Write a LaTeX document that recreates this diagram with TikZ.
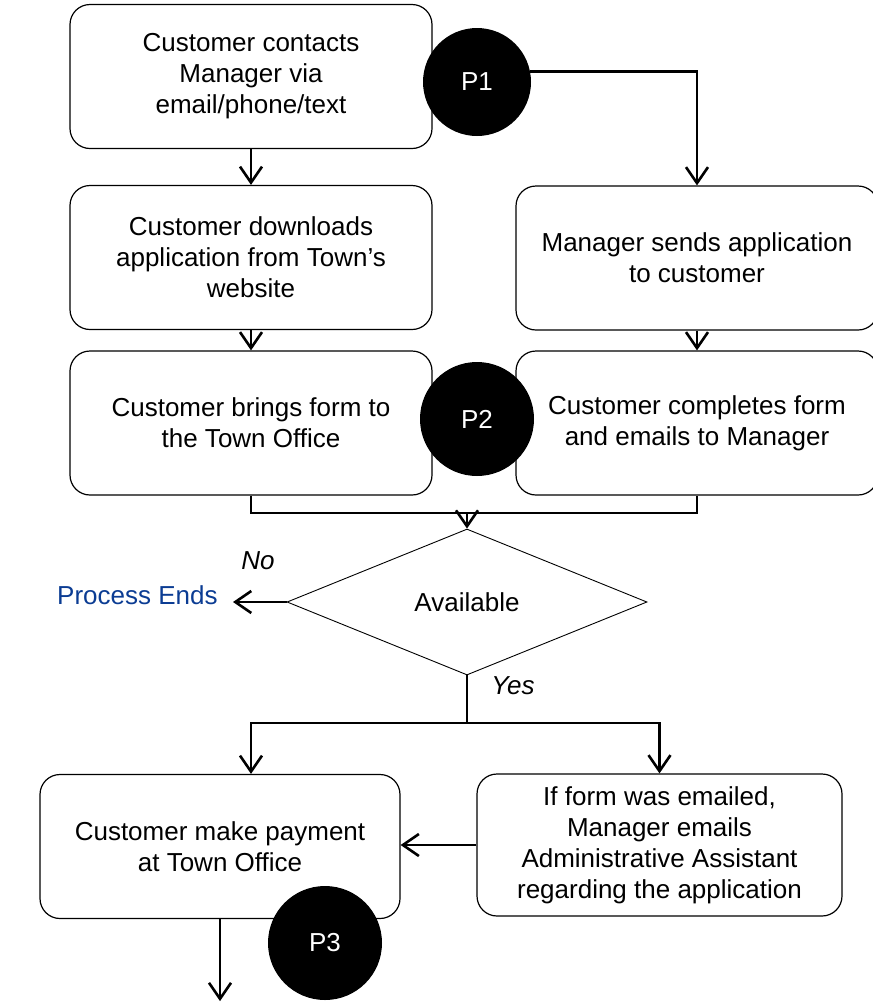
\documentclass[tikz,border=0pt]{standalone}
\usepackage{fontspec}
\setmainfont{Liberation Sans}
\usetikzlibrary{arrows.meta,positioning,calc,shapes.geometric}
\definecolor{endblue}{HTML}{0B3C93}

\begin{document}
\begin{tikzpicture}[x=0.5pt,y=-0.5pt,
  stepbox/.style={draw, rounded corners=10pt, line width=0.6pt, minimum width=181pt,
    minimum height=72pt, align=center, inner sep=2pt, font=\fontsize{13}{15.5}\selectfont},
  decide/.style={draw, diamond, aspect=1, inner sep=0pt, line width=0.45pt,
    minimum width=180pt, minimum height=73pt, font=\fontsize{13}{15.5}\selectfont},
  pmark/.style={circle, fill=black, text=white, inner sep=0pt, font=\fontsize{13}{15.5}\selectfont},
  flowarr/.style={-{Straight Barb[length=8pt,width=11pt]}, line width=1.3pt},
  flowline/.style={line width=1.3pt},
  answer/.style={font=\fontsize{13}{15.5}\selectfont\itshape},
]
\useasboundingbox (0,0) rectangle (873,1002);

% left column
\node[stepbox] (contact) at (251,76.5) {Customer contacts\\Manager via\\email/phone/text};
\node[stepbox] (download) at (251,257.5) {Customer downloads\\application from Town’s\\website};
\node[stepbox] (bring) at (251,423) {Customer brings form to\\the Town Office};
% right column
\node[stepbox] (send) at (697,258) {Manager sends application\\to customer};
\node[stepbox] (complete) at (697,423) {Customer completes form\\and emails to Manager};

% decision
\node[decide] (avail) at (467,602) {Available};
\node[font=\fontsize{13}{15.5}\selectfont, text=endblue, anchor=east, inner xsep=7.5pt]
  (ends) at (233,595) {Process Ends};
\node[answer] (no) at (258,561) {No};
\node[answer] (yes) at (513,686) {Yes};

% bottom row
\node[stepbox, minimum width=180pt] (pay) at (220,846.5) {Customer make payment\\at Town Office};
\node[stepbox, minimum width=182.5pt, minimum height=71pt] (mail) at (659.5,845)
  {If form was emailed,\\Manager emails\\Administrative Assistant\\regarding the application};

% connectors
\draw[flowarr] (contact.south) -- (download.north);
\draw[flowarr] (download.south) -- (bring.north);
\draw[flowarr] (send.south) -- (complete.north);
\coordinate (join) at (467,513);
\draw[flowline] (bring.south) |- (join) -| (complete.south);
\draw[flowarr] (join) -- (avail.north);
\draw[flowarr] (avail.west) -- (avail.west -| ends.east);
\coordinate (split) at (467,723);
\draw[flowline] (avail.south) -- (split);
\draw[flowarr] (split) -| (pay.north -| bring.south);
\draw[flowarr] (split) -| (mail.north);
\draw[flowarr] (mail.west) -- (mail.west -| pay.east);
\draw[flowarr] (pay.south) -- ++(0,82) coordinate (out);

% process markers
\foreach \name/\pos/\r in {P1/{(477,82)}/54, P2/{(477,419)}/57, P3/{(325,943)}/57} {
  \node[pmark, minimum size=\r pt] (\name) at \pos {\name};
}
\draw[flowarr] (P1.11) -| (send.north);
\end{tikzpicture}
\end{document}
